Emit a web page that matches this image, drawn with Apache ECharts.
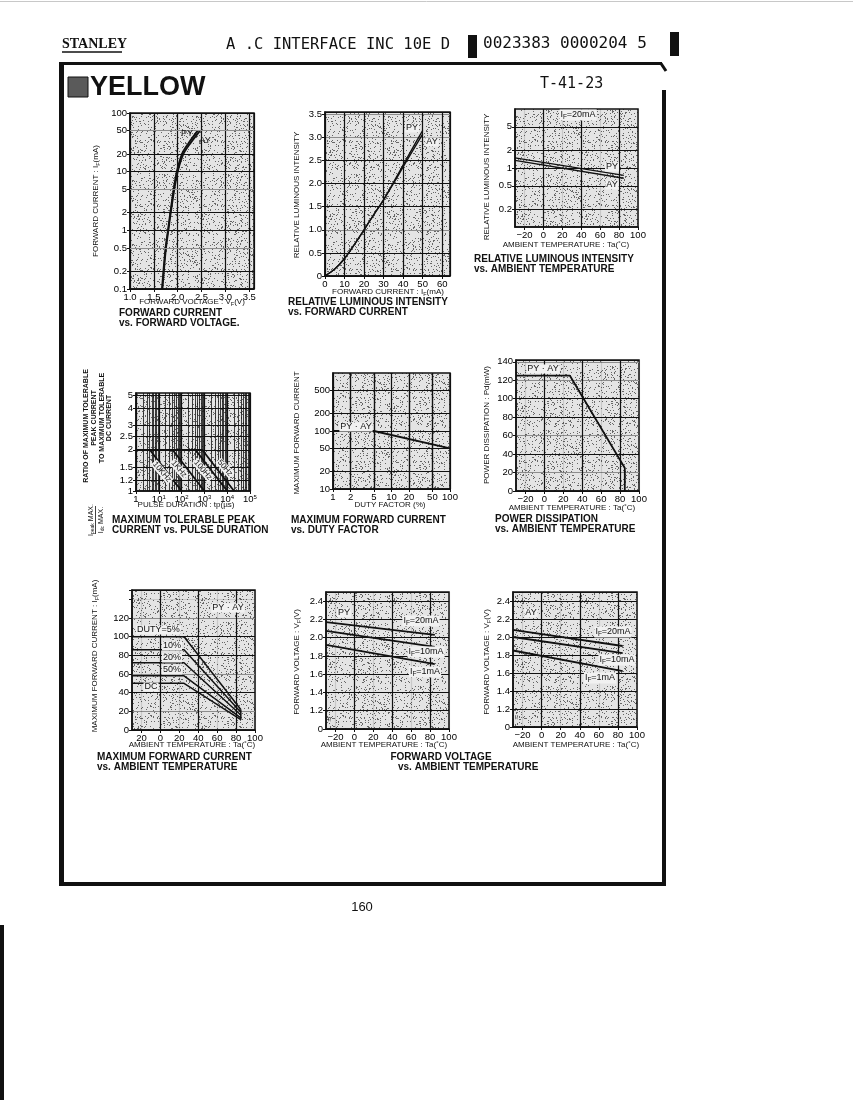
<!DOCTYPE html>
<html>
<head>
<meta charset="utf-8">
<title>YELLOW - characteristics</title>
<script src="https://cdn.jsdelivr.net/npm/echarts@6.0.0/dist/echarts.min.js"></script>
<style>
html, body { margin: 0; padding: 0; background: #fff; }
#sheet { width: 853px; height: 1100px; }
</style>
</head>
<body>
<div id="sheet"></div>
<script>
// ---- values ----
// forward current vs forward voltage
var ivCurrent = [0.1, 0.2, 0.5, 1, 2, 5, 10, 20, 30, 50];
var ivVoltPY = [1.67, 1.70, 1.745, 1.795, 1.845, 1.915, 1.98, 2.09, 2.22, 2.42];
var ivVoltAY = [1.68, 1.71, 1.755, 1.805, 1.855, 1.93, 2.00, 2.12, 2.26, 2.47];

// relative luminous intensity vs forward current
var livCurrent = [0, 5, 10, 15, 20, 25, 30, 35, 40, 45, 50];
var livPY = [0, 0.15, 0.38, 0.68, 1.0, 1.33, 1.65, 2.02, 2.40, 2.78, 3.15];
var livAY = [0, 0.15, 0.38, 0.68, 1.0, 1.33, 1.65, 2.00, 2.36, 2.72, 3.07];

// relative luminous intensity vs ambient temperature (IF=20mA)
var ltTemp = [-30, 85];
var ltPY = [1.48, 0.75];
var ltAY = [1.35, 0.67];

// peak current ratio vs pulse duration
var pulseFreq = ['10KHz', '1KHz', '100Hz', '50Hz'];
var pulseStart = [4, 40, 400, 800];          // us, ratio leaves 2
var pulseEnd = [100, 1000, 10000, 20000];    // us, ratio reaches 1
var pulseCap = 2;
var pulseFloor = 1;

// max forward current vs duty factor
var dutyPct = [1, 5, 100];
var dutyCurrent = [100, 100, 50];

// power dissipation vs ambient temperature
var pdTemp = [-30, 27, 85, 85];
var pdPower = [125, 125, 25, 0];

// max forward current vs ambient temperature
var derateNames = ['DUTY=5%', '10%', '20%', '50%', 'DC'];
var derateTemp = [-30, 25, 85];
var derate5 = [100, 100, 22];
var derate10 = [86, 86, 19];
var derate20 = [72, 72, 16];
var derate50 = [58, 58, 13];
var derateDC = [50, 50, 11];

// forward voltage vs ambient temperature
var vfTemp = [-30, 85];
var vfPY20 = [2.17, 2.03];
var vfPY10 = [2.075, 1.90];
var vfPY1 = [1.92, 1.71];
var vfAY20 = [2.08, 1.90];
var vfAY10 = [2.00, 1.82];
var vfAY1 = [1.85, 1.62];

// tick labels
var tempTicks = [-20, 0, 20, 40, 60, 80, 100];
var ivCurrentTicks = [0.1, 0.2, 0.5, 1, 2, 5, 10, 20, 50, 100];
var ltTicks = [0.2, 0.5, 1, 2, 5];
var ratioTicks = [1, 1.2, 1.5, 2, 2.5, 3, 4, 5];
var dutyTicks = [1, 2, 5, 10, 20, 50, 100];
var dutyCurrentTicks = [10, 20, 50, 100, 200, 500];

// ---- drawing ----
var INK = '#111';
var GREY = '#8c8c8c';
var FAINT = 'rgba(0,0,0,0.12)';
var FONT = 'Liberation Sans';

function pairs(xs, ys) {
    return xs.map(function (x, i) { return [x, ys[i]]; });
}

// stippled grey like the printed halftone
function speckle() {
    var c = document.createElement('canvas');
    c.width = 64; c.height = 64;
    var g = c.getContext('2d');
    g.fillStyle = '#e4e4e4';
    g.fillRect(0, 0, 64, 64);
    g.fillStyle = '#666';
    for (var i = 0; i < 64; i++) {
        for (var j = 0; j < 64; j++) {
            var h = Math.sin(i * 12.9898 + j * 78.233) * 43758.5453;
            if (h - Math.floor(h) < 0.12) g.fillRect(i, j, 1, 1);
        }
    }
    return c;
}
var paper = {image: speckle(), repeat: 'repeat'};

var boxes = [
    {left: 130, top: 113, width: 124, height: 176},
    {left: 325, top: 112, width: 125, height: 164},
    {left: 515, top: 109, width: 123, height: 118},
    {left: 136, top: 393, width: 114, height: 98},
    {left: 333, top: 373, width: 117, height: 116},
    {left: 516, top: 360, width: 123, height: 131},
    {left: 132, top: 590, width: 123, height: 140},
    {left: 326, top: 592, width: 123, height: 137},
    {left: 513, top: 592, width: 124, height: 135}
];
var grids = boxes.map(function (b) {
    return {
        show: true, left: b.left, top: b.top, width: b.width, height: b.height,
        containLabel: false, outerBoundsMode: 'none',
        backgroundColor: paper, borderColor: INK, borderWidth: 1.5
    };
});

function ax(gi, o) {
    var a = {
        gridIndex: gi,
        axisLine: {show: true, onZero: false, lineStyle: {color: INK, width: 1.5}},
        axisTick: {show: true, length: 3, lineStyle: {color: INK, width: 1}},
        axisLabel: {fontFamily: FONT, fontSize: 9.5, color: '#000', margin: 3, hideOverlap: false},
        splitLine: {show: true, lineStyle: {color: INK, width: 1.2}}
    };
    for (var k in o) {
        if (a[k] && typeof o[k] === 'object' && !Array.isArray(o[k])) {
            for (var kk in o[k]) a[k][kk] = o[k][kk];
        } else {
            a[k] = o[k];
        }
    }
    return a;
}

function fixed1(v) { return Math.abs(v) < 1e-9 ? '0' : v.toFixed(1); }
// broken voltage axis: the bottom edge is printed as 0
function brokenVolt(v) { return Math.abs(v - 1) < 1e-9 ? '0' : v.toFixed(1); }
function plain(v) { return String(+v.toPrecision(6)); }
function tempLabel(v) {
    if (Math.round(v) % 20 !== 0) return '';
    return v < 0 ? '\u2212' + (-v) : String(v);
}
function tempAxis(gi, fmt) {
    return ax(gi, {
        type: 'value', min: -30, max: 100, interval: 10,
        axisLabel: {formatter: fmt || tempLabel, customValues: tempTicks},
        axisTick: {customValues: tempTicks},
        splitLine: {lineStyle: {color: [FAINT, INK], width: 1.2}}
    });
}
function powLabel(v) {
    var e = Math.round(Math.log(v) / Math.LN10);
    return e === 0 ? '1' : '10{s|' + e + '}';
}

var xAxes = [
    ax(0, {type: 'value', min: 1.0, max: 3.6, interval: 0.5,
        axisLabel: {formatter: fixed1, showMaxLabel: false}}),
    ax(1, {type: 'value', min: 0, max: 64, interval: 10,
        axisLabel: {showMaxLabel: false}}),
    tempAxis(2),
    ax(3, {type: 'log', logBase: 10, min: 1, max: 100000,
        axisLabel: {formatter: powLabel, rich: {s: {fontSize: 6, verticalAlign: 'top', lineHeight: 10}}}}),
    ax(4, {type: 'log', logBase: 10, min: 1, max: 100,
        axisLabel: {formatter: plain, customValues: dutyTicks}, axisTick: {customValues: dutyTicks}}),
    tempAxis(5),
    tempAxis(6, function (v) { return Math.round(v) % 20 === 0 ? String(Math.abs(v)) : ''; }),
    tempAxis(7),
    tempAxis(8)
];

var yAxes = [
    ax(0, {type: 'log', logBase: 10, min: 0.1, max: 100,
        axisLabel: {formatter: plain, customValues: ivCurrentTicks}, axisTick: {customValues: ivCurrentTicks}}),
    ax(1, {type: 'value', min: 0, max: 3.55, interval: 0.5,
        axisLabel: {formatter: fixed1, showMaxLabel: false},
        splitLine: {lineStyle: {color: [INK, INK, GREY, INK, INK, INK, GREY, GREY, INK], width: 1.2}}}),
    ax(2, {type: 'log', logBase: 10, min: 0.1, max: 10,
        axisLabel: {formatter: plain, customValues: ltTicks}, axisTick: {customValues: ltTicks}}),
    ax(3, {type: 'log', logBase: 10, min: 1, max: 5.2,
        axisLabel: {formatter: plain, customValues: ratioTicks}, axisTick: {customValues: ratioTicks},
        splitLine: {show: false}}),
    ax(4, {type: 'log', logBase: 10, min: 10, max: 1000,
        axisLabel: {formatter: plain, customValues: dutyCurrentTicks}, axisTick: {customValues: dutyCurrentTicks}}),
    ax(5, {type: 'value', min: 0, max: 142, interval: 20,
        axisLabel: {showMaxLabel: false},
        splitLine: {lineStyle: {color: [INK, GREY, INK, GREY, INK, INK, GREY, GREY, INK], width: 1.2}}}),
    ax(6, {type: 'value', min: 0, max: 150, interval: 20,
        axisLabel: {formatter: function (v) { return v <= 120 ? String(v) : ''; }},
        splitLine: {lineStyle: {color: [INK, GREY, INK, GREY, INK, INK, GREY, FAINT, INK], width: 1.2}}}),
    ax(7, {type: 'value', min: 1.0, max: 2.5, interval: 0.2,
        axisLabel: {formatter: brokenVolt, showMaxLabel: false}}),
    ax(8, {type: 'value', min: 1.0, max: 2.5, interval: 0.2,
        axisLabel: {formatter: brokenVolt, showMaxLabel: false}})
];

// extra grid lines on log axes
function guides(key, vals, color, width) {
    return vals.map(function (v) {
        var d = {};
        d[key] = v;
        d.lineStyle = {color: color, width: width, type: 'solid'};
        return d;
    });
}
function guideSet(list) {
    return {silent: true, symbol: ['none', 'none'], label: {show: false}, animation: false, data: list};
}
function curve(gi, pts, extra) {
    var s = {
        type: 'line', xAxisIndex: gi, yAxisIndex: gi, data: pts, symbol: 'none',
        silent: true, animation: false, z: 4,
        lineStyle: {color: INK, width: 1.8}
    };
    if (extra) for (var k in extra) s[k] = extra[k];
    return s;
}

var pulseMinor = [];
for (var dec = 1; dec <= 10000; dec *= 10) {
    for (var m = 2; m <= 9; m++) pulseMinor.push(m * dec);
}

var series = [];
series.push(curve(0, pairs(ivVoltPY, ivCurrent), {smooth: 0.3,
    markLine: guideSet([].concat(
        guides('yAxis', [50, 5, 0.5], GREY, 1.2),
        guides('yAxis', [20, 2, 0.2], INK, 1.2)))}));
series.push(curve(0, pairs(ivVoltAY, ivCurrent), {smooth: 0.3}));

series.push(curve(1, pairs(livCurrent, livPY), {smooth: 0.3, lineStyle: {color: INK, width: 1.4}}));
series.push(curve(1, pairs(livCurrent, livAY), {smooth: 0.3, lineStyle: {color: INK, width: 1.4}}));

series.push(curve(2, pairs(ltTemp, ltPY), {lineStyle: {color: INK, width: 1.3},
    markLine: guideSet(guides('yAxis', [0.2, 0.5, 2, 5], INK, 1.2))}));
series.push(curve(2, pairs(ltTemp, ltAY), {lineStyle: {color: INK, width: 1.3}}));

series.push(curve(3, [[1, pulseCap], [pulseStart[pulseStart.length - 1], pulseCap]], {
    markLine: guideSet([].concat(
        guides('xAxis', pulseMinor, INK, 0.8),
        guides('yAxis', [1.2, 1.5, 2, 2.5, 3, 4, 5], INK, 1)))}));
pulseFreq.forEach(function (f, i) {
    series.push(curve(3, [[pulseStart[i], pulseCap], [pulseEnd[i], pulseFloor]], {name: f}));
});

series.push(curve(4, pairs(dutyPct, dutyCurrent), {
    markLine: guideSet([].concat(
        guides('xAxis', [2, 5, 20, 50], INK, 1.2),
        guides('yAxis', [20, 50, 200, 500], INK, 1.2)))}));

series.push(curve(5, pairs(pdTemp, pdPower)));

[derate5, derate10, derate20, derate50, derateDC].forEach(function (d) {
    series.push(curve(6, pairs(derateTemp, d), {lineStyle: {color: INK, width: 1.5}}));
});
series.push(curve(6, [[derateTemp[2], derate5[2]], [derateTemp[2], derateDC[2]]], {lineStyle: {color: INK, width: 1.5}}));

[vfPY20, vfPY10, vfPY1].forEach(function (d) { series.push(curve(7, pairs(vfTemp, d))); });
[vfAY20, vfAY10, vfAY1].forEach(function (d) { series.push(curve(8, pairs(vfTemp, d))); });

// ---- sheet text and frame ----
var R = Math.PI / 2;
function label(x, y, s, o) {
    o = o || {};
    var size = o.size || 8;
    return {
        type: 'text', x: x, y: y, rotation: o.rot || 0, silent: true, z: 50,
        style: {
            text: s, fill: INK,
            fontFamily: o.family || FONT, fontSize: size,
            fontWeight: o.bold ? 'bold' : 'normal', fontStyle: o.italic ? 'italic' : 'normal',
            align: o.align || 'center', verticalAlign: 'middle',
            textAlign: o.align || 'center', textVerticalAlign: 'middle',
            backgroundColor: o.bg || 'transparent', padding: o.bg ? [0, 1] : 0,
            rich: {s: {fontSize: Math.max(5, size - 2.5), verticalAlign: 'bottom', lineHeight: size + 2}}
        }
    };
}
function bar(x, y, w, h) {
    return {type: 'rect', silent: true, z: 40, shape: {x: x, y: y, width: w, height: h}, style: {fill: INK}};
}
function rule(x1, y1, x2, y2, w, color) {
    return {type: 'line', silent: true, z: 40, shape: {x1: x1, y1: y1, x2: x2, y2: y2},
        style: {stroke: color || INK, lineWidth: w}};
}
var TAG = '#f1f1f1';
var temp = 'AMBIENT TEMPERATURE : Ta(\u02daC)';

var graphics = [
    // page header
    rule(0, 1.5, 853, 1.5, 1, '#c8c8c8'),
    label(62, 44, 'STANLEY', {align: 'left', size: 14, bold: true, family: 'Liberation Serif'}),
    rule(62, 52, 122, 52, 1.5),
    label(226, 45, 'A .C INTERFACE INC 10E D', {align: 'left', size: 15.5, family: 'DejaVu Sans Mono'}),
    bar(468, 35, 9, 23),
    label(483, 44, '0023383 0000204 5', {align: 'left', size: 16, family: 'DejaVu Sans Mono'}),
    bar(670, 32, 9, 24),
    // frame
    bar(59, 62, 5, 824),
    bar(59, 62, 603, 3),
    rule(661, 63.5, 666, 71, 3),
    bar(662, 90, 4, 796),
    bar(59, 882, 607, 4),
    bar(0, 925, 4, 175),
    {type: 'rect', silent: true, z: 40, shape: {x: 68, y: 77, width: 20, height: 20},
        style: {fill: '#5a5a5a', stroke: INK, lineWidth: 1}},
    label(90, 88, 'YELLOW', {align: 'left', size: 27, bold: true}),
    label(540, 84, 'T-41-23', {align: 'left', size: 15, family: 'DejaVu Sans Mono'}),
    label(362, 907, '160', {size: 13}),

    // forward current vs forward voltage
    label(96, 201, 'FORWARD CURRENT : I{s|F}(mA)', {rot: R}),
    label(192, 302, 'FORWARD VOLTAGE : V{s|F}(V)'),
    label(119, 313, 'FORWARD CURRENT', {align: 'left', size: 10, bold: true}),
    label(119, 323, 'vs. FORWARD VOLTAGE.', {align: 'left', size: 10, bold: true}),
    label(187, 134, 'PY', {size: 9}),
    label(205, 141, 'AY', {size: 9}),

    // relative luminous intensity vs forward current
    label(297, 195, 'RELATIVE LUMINOUS INTENSITY', {rot: R}),
    label(388, 292, 'FORWARD CURRENT : I{s|F}(mA)'),
    label(288, 302, 'RELATIVE LUMINOUS INTENSITY', {align: 'left', size: 10, bold: true}),
    label(288, 312, 'vs. FORWARD CURRENT', {align: 'left', size: 10, bold: true}),
    label(412, 128, 'PY', {size: 9, bg: TAG}),
    label(432, 142, 'AY', {size: 9, bg: TAG}),

    // relative luminous intensity vs ambient temperature
    label(487, 177, 'RELATIVE LUMINOUS INTENSITY', {rot: R}),
    label(566, 245, temp),
    label(474, 259, 'RELATIVE LUMINOUS INTENSITY', {align: 'left', size: 10, bold: true}),
    label(474, 269, 'vs. AMBIENT TEMPERATURE', {align: 'left', size: 10, bold: true}),
    label(578, 115, 'I{s|F}=20mA', {size: 9, bg: TAG}),
    label(612, 167, 'PY', {size: 9, bg: TAG}),
    label(612, 185, 'AY', {size: 9, bg: TAG}),

    // peak current ratio vs pulse duration
    label(86, 426, 'RATIO OF MAXIMUM TOLERABLE', {rot: R, size: 7, bold: true}),
    label(94, 418, 'PEAK CURRENT', {rot: R, size: 7, bold: true}),
    label(102, 418, 'TO MAXIMUM TOLERABLE', {rot: R, size: 7, bold: true}),
    label(109, 418, 'DC CURRENT', {rot: R, size: 7, bold: true}),
    label(91, 520, 'I{s|peak} MAX.', {rot: R, size: 7}),
    rule(95.5, 506, 95.5, 534, 0.8),
    label(101, 520, 'I{s|dc} MAX.', {rot: R, size: 7}),
    label(186, 505, 'PULSE DURATION : tp(\u00b5s)'),
    label(112, 520, 'MAXIMUM TOLERABLE PEAK', {align: 'left', size: 10, bold: true}),
    label(112, 530, 'CURRENT vs. PULSE DURATION', {align: 'left', size: 10, bold: true}),

    // max forward current vs duty factor
    label(297, 433, 'MAXIMUM FORWARD CURRENT', {rot: R}),
    label(390, 505, 'DUTY FACTOR (%)'),
    label(291, 520, 'MAXIMUM FORWARD CURRENT', {align: 'left', size: 10, bold: true}),
    label(291, 530, 'vs. DUTY FACTOR', {align: 'left', size: 10, bold: true}),
    label(356, 427, 'PY \u00b7 AY', {size: 9, bg: TAG}),

    // power dissipation
    label(487, 425, 'POWER DISSIPATION : Pd(mW)', {rot: R}),
    label(572, 508, temp),
    label(495, 519, 'POWER DISSIPATION', {align: 'left', size: 10, bold: true}),
    label(495, 529, 'vs. AMBIENT TEMPERATURE', {align: 'left', size: 10, bold: true}),
    label(543, 369, 'PY \u00b7 AY', {size: 9, bg: TAG}),

    // max forward current vs ambient temperature
    label(95, 656, 'MAXIMUM FORWARD CURRENT : I{s|F}(mA)', {rot: R}),
    label(192, 745, temp),
    label(97, 757, 'MAXIMUM FORWARD CURRENT', {align: 'left', size: 10, bold: true}),
    label(97, 767, 'vs. AMBIENT TEMPERATURE', {align: 'left', size: 10, bold: true}),
    label(228, 608, 'PY \u00b7 AY', {size: 9, bg: TAG}),
    label(136, 630, derateNames[0], {align: 'left', size: 9, bg: TAG}),
    label(172, 646, derateNames[1], {size: 9, bg: TAG}),
    label(172, 658, derateNames[2], {size: 9, bg: TAG}),
    label(172, 670, derateNames[3], {size: 9, bg: TAG}),
    label(151, 687, derateNames[4], {size: 9, bg: TAG}),

    // forward voltage vs ambient temperature
    label(297, 662, 'FORWARD VOLTAGE : V{s|F}(V)', {rot: R}),
    label(384, 745, temp),
    label(344, 613, 'PY', {size: 9, bg: TAG}),
    label(421, 621, 'I{s|F}=20mA', {size: 9, bg: TAG}),
    label(426, 652, 'I{s|F}=10mA', {size: 9, bg: TAG}),
    label(425, 672, 'I{s|F}=1mA', {size: 9, bg: TAG}),
    label(330, 719, '\u2248', {size: 8, rot: R}),
    label(487, 662, 'FORWARD VOLTAGE : V{s|F}(V)', {rot: R}),
    label(576, 745, temp),
    label(531, 613, 'AY', {size: 9, bg: TAG}),
    label(613, 632, 'I{s|F}=20mA', {size: 9, bg: TAG}),
    label(617, 660, 'I{s|F}=10mA', {size: 9, bg: TAG}),
    label(600, 678, 'I{s|F}=1mA', {size: 9, bg: TAG}),
    label(517, 717, '\u2248', {size: 8, rot: R}),
    label(441, 757, 'FORWARD VOLTAGE', {size: 10, bold: true}),
    label(398, 767, 'vs. AMBIENT TEMPERATURE', {align: 'left', size: 10, bold: true})
];

// frequency tags along the pulse lines
var pulseTagPos = [[162, 472], [179, 469], [203, 470], [225, 468]];
pulseFreq.forEach(function (f, i) {
    graphics.push(label(pulseTagPos[i][0], pulseTagPos[i][1], f, {rot: -0.87, size: 8, bg: TAG}));
});

var chart = echarts.init(document.getElementById('sheet'));
chart.setOption({
    backgroundColor: '#fff',
    animation: false,
    grid: grids,
    xAxis: xAxes,
    yAxis: yAxes,
    series: series,
    graphic: graphics
});
</script>
</body>
</html>
